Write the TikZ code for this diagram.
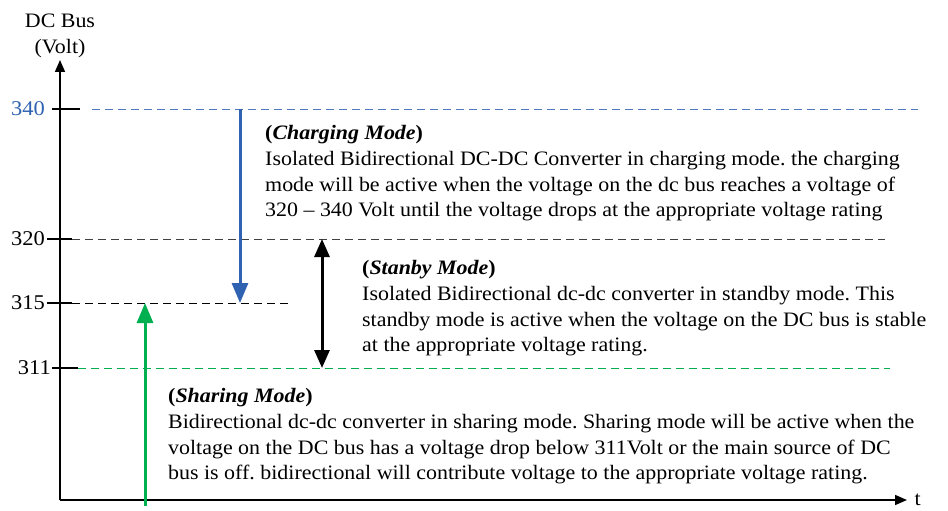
\documentclass[tikz,border=0pt]{standalone}
\usepackage{fontspec}
\setmainfont[FakeStretch=1.07]{Liberation Serif}
\usetikzlibrary{arrows.meta,positioning}
\definecolor{busblue}{RGB}{47,98,176}
\definecolor{lineblue}{RGB}{80,120,190}
\definecolor{sharegreen}{RGB}{0,176,80}
\newcommand{\modefont}{\fontsize{20.5}{25.8}\selectfont}
\frenchspacing
\tikzstyle{axis}   =[line width=1.6pt,-{Triangle[length=12pt,width=10pt]}]
\tikzstyle{tick}   =[line width=1.6pt]
\tikzstyle{level}  =[line width=0.9pt,dash pattern=on 8pt off 5pt]
\tikzstyle{modearrow}=[line width=3pt,-{Triangle[length=20pt,width=16pt]}]
\tikzstyle{modetext}=[anchor=north west,align=left,inner sep=0pt]

\begin{document}
\begin{tikzpicture}[x=1pt,y=-1pt,font=\modefont]
\useasboundingbox (0,0) rectangle (948,511);
% axes
\coordinate (origin) at (60,500);
\coordinate (ytop) at (60,60);
\coordinate (xend) at (907,500);
\draw[axis] (origin) -- (ytop);
\draw[axis] (origin) -- (xend);
\node[right=4pt of xend] (t) {t};
\node[above=2pt of ytop,align=center,inner sep=0pt] (ylabel) {DC Bus\\(Volt)};
% voltage levels
\foreach \val/\y/\lc/\lx/\col/\tl/\tr/\dl/\dr in {340/109/busblue/45/lineblue/52/80/92/918,
    320/239/black/45/black!75/47/72/72/885, 315/303/black/45/black/47/72/72/288,
    311/368/black/51/sharegreen/52/78/78/890}
{
  \coordinate (t\val a) at (\tl,\y);
  \coordinate (t\val b) at (\tr,\y);
  \coordinate (s\val) at (\dl,\y);
  \coordinate (e\val) at (\dr,\y);
  \draw[tick] (t\val a) -- (t\val b);
  \draw[level,\col] (s\val) -- (e\val);
  \node[anchor=east,text=\lc,inner sep=0pt,font=\fontsize{21}{25}\selectfont] (l\val) at (\lx,\y) {\val};
}
% mode arrows
\coordinate (chgtop) at (240,109);
\coordinate (chgbot) at (240,303);
\coordinate (shrbot) at (145,506);
\coordinate (shrtop) at (145,303);
\coordinate (stbtop) at (322,239);
\coordinate (stbbot) at (322,368);
\draw[modearrow,busblue] (chgtop) -- (chgbot);
\draw[modearrow,sharegreen] (shrbot) -- (shrtop);
\draw[modearrow,{Triangle[length=18pt,width=15pt]}-{Triangle[length=18pt,width=15pt]}] (stbtop) -- (stbbot);
% mode descriptions
\node[modetext] (charging) at (265,125) {\textbf{(\textit{Charging Mode})}\\
  Isolated Bidirectional DC-DC Converter in charging mode. the charging\\
  mode will be active when the voltage on the dc bus reaches a voltage of\\
  320 -- 340 Volt until the voltage drops at the appropriate voltage rating};
\node[modetext] (standby) at (362,260) {\textbf{(\textit{Stanby Mode})}\\
  Isolated Bidirectional dc-dc converter in standby mode. This\\
  standby mode is active when the voltage on the DC bus is stable\\
  at the appropriate voltage rating.};
\node[modetext] (sharing) at (168,388) {\textbf{(\textit{Sharing Mode})}\\
  Bidirectional dc-dc converter in sharing mode. Sharing mode will be active when the\\
  voltage on the DC bus has a voltage drop below 311Volt or the main source of DC\\
  bus is off. bidirectional will contribute voltage to the appropriate voltage rating.};
\end{tikzpicture}
\end{document}
